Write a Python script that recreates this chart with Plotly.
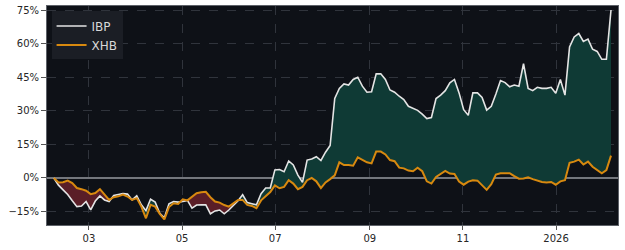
import numpy as np
import pandas as pd
import plotly.graph_objects as go

# ---- data (cumulative return, %) ----
start_date = "2025-02-06"
end_date = "2026-02-06"

ibp = [0, -3.2, -5.3, -7.4, -10.2, -12.8, -12.5, -10.5, -14.2, -10.3,
       -8, -9.8, -10.5, -7.8, -7.4, -7, -7.2, -9.8, -8, -12,
       -14.6, -9.5, -10.8, -15.8, -17.8, -11.5, -10.5, -10.8, -10.5, -10,
       -13.5, -12.1, -12, -12, -16, -14.7, -14.3, -16, -14.3, -12.1,
       -10.2, -7.5, -11, -11.5, -12, -7, -4.5, -4.5, 3.6, 3.8,
       2.8, 7.6, 5.8, 1.3, -2, 8, 8.5, 9.5, 7.8, 11.5,
       14.5, 35.5, 40, 42, 41.5, 44, 45, 41, 38.3, 38.5,
       46.5, 46.5, 44, 39.3, 38.3, 36.5, 35, 32, 31, 30.2,
       28.5, 26.5, 27, 35.5, 37, 39, 42.5, 44, 38, 30.5,
       28, 38, 38, 36, 30.3, 32, 37.5, 43.5, 42.6, 40.7,
       41.5, 41, 51, 40, 39, 40.5, 40, 40, 40.5, 37.8,
       44, 37, 58.5, 63, 64.5, 61, 62, 57.5, 56.5, 53,
       53, 75]

xhb = [0, -2.0, -1.9, -1.2, -2.3, -4.5, -5, -5.7, -7.2, -6.7,
       -5, -7.4, -9.8, -8.6, -8.2, -7.4, -8.3, -9.8, -9, -12.8,
       -18, -12, -12.8, -16, -18.5, -13, -11.3, -11.6, -9.5, -10,
       -8.6, -6.8, -6.4, -6.2, -8.6, -10.5, -11, -12.1, -12.8, -11.3,
       -9.8, -9.8, -12, -12.5, -13.5, -10, -8, -6.3, -3.3, -4.6,
       -4, -1, -2.5, -5, -4, -1, 0, -1.5, -4.5, -2,
       -0.5, 1.2, 7, 5.8, 5.8, 5.5, 9.2, 8.2, 7, 6.5,
       11.8, 11.8, 10.5, 8, 7.5, 4.6, 4.3, 3.3, 3, 4.6,
       3, -1.5, -2.5, 0.5, 2, 3.2, 2, 1.8, -1.6, -3,
       -1.6, -1, -1.2, -3.5, -5.3, -2.8, 1.5, 2.1, 2.1, 2.1,
       0.8, -0.3, -0.2, 0.3, -0.5, -1.2, -1.8, -2, -1.8, -3,
       -1.5, -1, 6.8, 7.3, 8.2, 6, 7.3, 5, 3.5, 2.1,
       3.5, 10]

tick_dates = ["2025-03-01", "2025-05-01", "2025-07-01", "2025-09-01",
              "2025-11-01", "2026-01-01"]
tick_labels = ["03", "05", "07", "09", "11", "2026"]

dates = pd.date_range(start_date, end_date, periods=len(ibp))

# ---- styling ----
BG = "#0e1117"
GREEN = "#0f3a35"
RED = "#5a1e27"
IBP_C = "#e4e4e4"
XHB_C = "#d8890f"
GRID = "#30343c"
FONT = "DejaVu Sans"

# ---- split the band between the two series into same-sign runs ----
tnum = dates.asi8.astype(float)
a = np.array(ibp, dtype=float)
b = np.array(xhb, dtype=float)


def sgn(v):
    return 1 if v > 0 else (-1 if v < 0 else 0)


segs = []
cx, ca, cb = [tnum[0]], [a[0]], [b[0]]
cur = sgn(a[0] - b[0])
for i in range(1, len(a)):
    d0 = a[i - 1] - b[i - 1]
    d1 = a[i] - b[i]
    if cur == 0:
        cur = sgn(d1)
    if d0 * d1 < 0:
        f = d0 / (d0 - d1)
        xc = tnum[i - 1] + f * (tnum[i] - tnum[i - 1])
        yc = a[i - 1] + f * (a[i] - a[i - 1])
        cx.append(xc); ca.append(yc); cb.append(yc)
        segs.append((cur, cx, ca, cb))
        cx, ca, cb = [xc], [yc], [yc]
        cur = sgn(d1)
    cx.append(tnum[i]); ca.append(a[i]); cb.append(b[i])
segs.append((cur, cx, ca, cb))

fig = go.Figure()

for s, sx, sa, sb in segs:
    xs = list(sx) + list(sx)[::-1]
    ys = list(sa) + list(sb)[::-1]
    fig.add_trace(go.Scatter(
        x=pd.to_datetime(np.array(xs).astype("int64")), y=ys,
        mode="lines", fill="toself",
        fillcolor=GREEN if s >= 0 else RED,
        line=dict(width=0), hoverinfo="skip", showlegend=False))

fig.add_trace(go.Scatter(x=dates, y=ibp, mode="lines", name="IBP",
                         line=dict(color=IBP_C, width=1.6)))
fig.add_trace(go.Scatter(x=dates, y=xhb, mode="lines", name="XHB",
                         line=dict(color=XHB_C, width=2)))

fig.update_layout(
    width=625, height=250,
    margin=dict(l=47, r=7, t=6, b=25),
    paper_bgcolor="white",
    plot_bgcolor=BG,
    font=dict(family=FONT, size=10, color="#262626"),
    showlegend=True,
    legend=dict(x=0.008, y=0.975, xanchor="left", yanchor="top",
                bgcolor="#1b1e25", bordercolor="#1b1e25", borderwidth=0,
                font=dict(family=FONT, size=12, color="#d8d8d8"),
                tracegroupgap=0),
)

fig.update_xaxes(
    range=["2025-02-01 12:00", "2026-02-10 14:00"],
    tickvals=tick_dates, ticktext=tick_labels,
    showgrid=True, gridcolor=GRID, griddash="dash", gridwidth=1,
    ticks="outside", ticklen=4, tickcolor="#555",
    showline=True, linecolor="#5d6168", mirror=True, linewidth=1,
    zeroline=False,
    tickfont=dict(family=FONT, size=10, color="#262626"),
)
fig.update_yaxes(
    range=[-21.0, 76.8],
    tickmode="linear", tick0=0, dtick=15, ticksuffix="%",
    showgrid=True, gridcolor=GRID, griddash="dash", gridwidth=1,
    ticks="outside", ticklen=5, tickcolor="#555",
    showline=True, linecolor="#5d6168", mirror=True, linewidth=1,
    zeroline=True, zerolinecolor="#74777d", zerolinewidth=1.5,
    tickfont=dict(family=FONT, size=10, color="#262626"),
)

fig.write_html("out.html")
